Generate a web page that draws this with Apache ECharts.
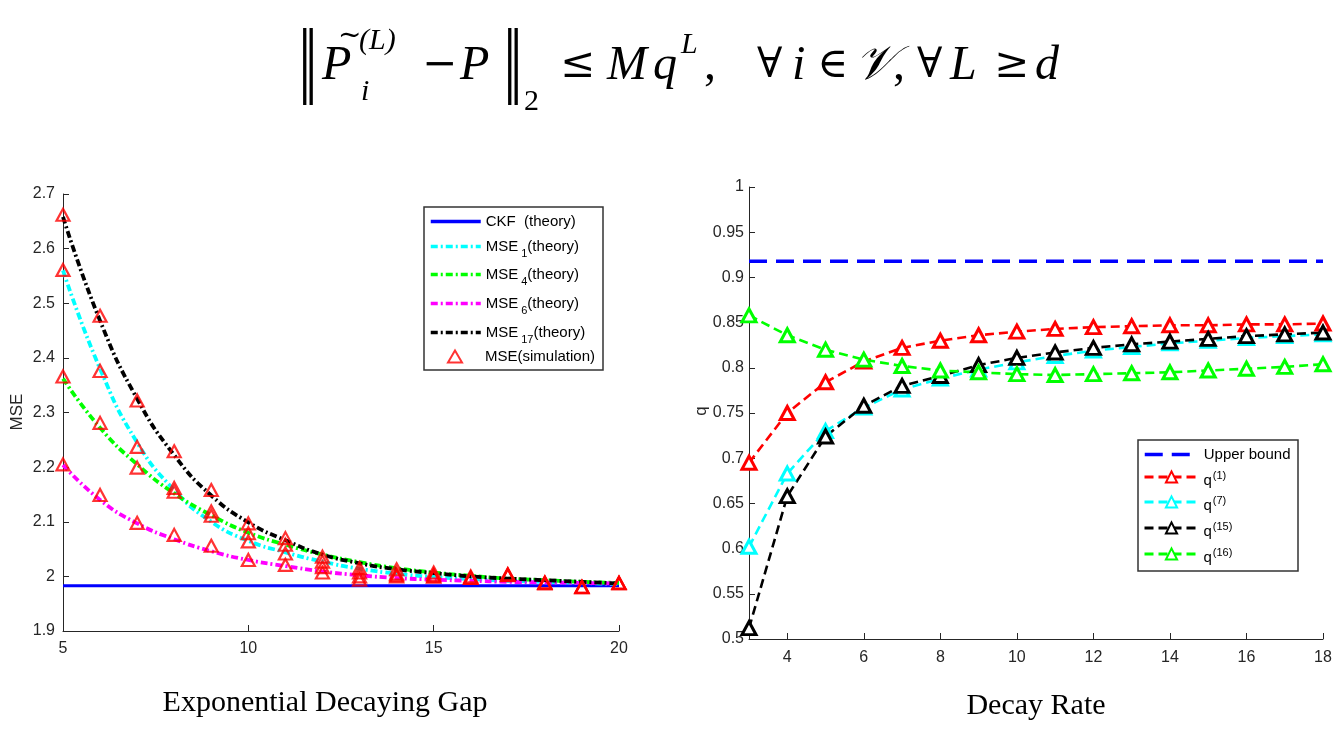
<!DOCTYPE html>
<html>
<head>
<meta charset="utf-8">
<script src="https://cdn.jsdelivr.net/npm/echarts@6/dist/echarts.min.js"></script>
<style>
html,body{margin:0;padding:0;background:#ffffff;}
#c{width:1342px;height:732px;}
</style>
</head>
<body>
<div id="c"></div>
<script>
// ---------- Left chart data: Exponential Decaying Gap ----------
const gapX = [5, 6, 7, 8, 9, 10, 11, 12, 13, 14, 15, 16, 17, 18, 19, 20];
const ckfTheory = [1.983, 1.983, 1.983, 1.983, 1.983, 1.983, 1.983, 1.983, 1.983, 1.983, 1.983, 1.983, 1.983, 1.983, 1.983, 1.983];
const mse1Theory = [2.560, 2.380, 2.245, 2.158, 2.100, 2.065, 2.044, 2.027, 2.014, 2.005, 1.999, 1.995, 1.992, 1.990, 1.988, 1.986];
const mse4Theory = [2.362, 2.272, 2.205, 2.152, 2.112, 2.080, 2.058, 2.040, 2.026, 2.015, 2.007, 2.001, 1.996, 1.993, 1.990, 1.988];
const mse6Theory = [2.204, 2.140, 2.097, 2.068, 2.046, 2.030, 2.019, 2.009, 2.002, 1.997, 1.994, 1.992, 1.990, 1.989, 1.988, 1.987];
const mse17Theory = [2.658, 2.468, 2.325, 2.222, 2.148, 2.099, 2.066, 2.040, 2.024, 2.013, 2.006, 2.000, 1.996, 1.993, 1.990, 1.987];
const simX = [5, 5, 5, 5, 6, 6, 6, 6, 7, 7, 7, 7, 8, 8, 8, 8, 9, 9, 9, 9, 10, 10, 10, 10,
              11, 11, 11, 11, 12, 12, 12, 12, 13, 13, 13, 13, 14, 14, 14, 14, 15, 15, 15, 15,
              16, 16, 16, 16, 17, 17, 17, 17, 18, 18, 18, 18, 19, 19, 19, 19, 20, 20, 20, 20];
const simY = [2.662, 2.561, 2.366, 2.205, 2.477, 2.376, 2.281, 2.149, 2.322, 2.237, 2.199, 2.098,
              2.229, 2.162, 2.155, 2.076, 2.158, 2.119, 2.111, 2.056, 2.097, 2.079, 2.064, 2.030,
              2.070, 2.058, 2.042, 2.021, 2.036, 2.027, 2.017, 2.007, 2.015, 2.007, 2.000, 1.994,
              2.013, 2.005, 2.000, 2.002, 2.007, 2.003, 2.000, 2.000, 2.000, 1.997, 1.998, 1.997,
              2.004, 2.003, 2.002, 2.003, 1.988, 1.989, 1.988, 1.987, 1.981, 1.980, 1.981, 1.980,
              1.988, 1.988, 1.987, 1.988];

// ---------- Right chart data: Decay Rate ----------
const rateX = [3, 4, 5, 6, 7, 8, 9, 10, 11, 12, 13, 14, 15, 16, 17, 18];
const upperBound = [0.918, 0.918, 0.918, 0.918, 0.918, 0.918, 0.918, 0.918, 0.918, 0.918, 0.918, 0.918, 0.918, 0.918, 0.918, 0.918];
const q1 = [0.695, 0.750, 0.784, 0.807, 0.822, 0.830, 0.836, 0.840, 0.843, 0.845, 0.846, 0.847, 0.847, 0.848, 0.848, 0.849];
const q7 = [0.602, 0.683, 0.730, 0.756, 0.776, 0.788, 0.798, 0.806, 0.813, 0.819, 0.823, 0.827, 0.830, 0.833, 0.835, 0.837];
const q15 = [0.512, 0.658, 0.724, 0.758, 0.780, 0.791, 0.803, 0.811, 0.817, 0.822, 0.826, 0.829, 0.832, 0.835, 0.837, 0.839];
const q16 = [0.858, 0.836, 0.820, 0.809, 0.802, 0.797, 0.795, 0.793, 0.792, 0.793, 0.794, 0.795, 0.797, 0.799, 0.801, 0.804];

// tick labels
const leftXTicks = [5, 10, 15, 20];
const rightXTicks = [4, 6, 8, 10, 12, 14, 16, 18];

// text
const leftXTitle = 'Exponential Decaying Gap';
const rightXTitle = 'Decay Rate';
const leftYTitle = 'MSE';
const rightYTitle = 'q';

function zip(xs, ys) { return xs.map((x, i) => [x, ys[i]]); }

const AX = '#262626';
const SANS = 'Liberation Sans';
const dashDot = [7, 3, 2, 3];

const rich = {
  b: { fontFamily: SANS, fontSize: 15, color: '#000', verticalAlign: 'middle' },
  bp: { fontFamily: SANS, fontSize: 15, color: '#000', padding: [0, 0, 0, 18], verticalAlign: 'middle' },
  sub: { fontFamily: SANS, fontSize: 11, color: '#000', padding: [14, 0, 0, 3], verticalAlign: 'middle' },
  qb: { fontFamily: SANS, fontSize: 15, color: '#000', padding: [8, 0, 0, 0], verticalAlign: 'middle' },
  sup: { fontFamily: SANS, fontSize: 11, color: '#000', padding: [0, 0, 3, 1], verticalAlign: 'middle' }
};
const legendLabels = {
  'CKF': '{b|CKF  (theory)}',
  'MSE1': '{b|MSE}{sub|1}{b|(theory)}',
  'MSE4': '{b|MSE}{sub|4}{b|(theory)}',
  'MSE6': '{b|MSE}{sub|6}{b|(theory)}',
  'MSE17': '{b|MSE}{sub|17}{b|(theory)}',
  'MSEsim': '{bp|MSE(simulation)}',
  'Upper bound': '{b|Upper bound}',
  'q1': '{qb|q}{sup|(1)}',
  'q7': '{qb|q}{sup|(7)}',
  'q15': '{qb|q}{sup|(15)}',
  'q16': '{qb|q}{sup|(16)}'
};
function mkLegend(name, left, cy, w, h, hideSymbol, lineW) {
  const lg = {
    data: [name], left: left, top: cy - h / 2, orient: 'horizontal',
    itemWidth: w, itemHeight: h, padding: 0, itemGap: 0, selectedMode: false,
    formatter: n => legendLabels[n],
    textStyle: { fontFamily: SANS, fontSize: 15, color: '#000', rich: rich }
  };
  if (hideSymbol) {
    lg.itemStyle = { color: 'rgba(0,0,0,0)', borderWidth: 0, borderColor: 'rgba(0,0,0,0)' };
  }
  if (lineW) {
    lg.lineStyle = { width: lineW };
  }
  return lg;
}

function valueAxis(opts) {
  return Object.assign({
    type: 'value',
    axisLine: { show: true, onZero: false, lineStyle: { color: AX, width: 1 } },
    axisTick: { show: true, inside: true, length: 6, lineStyle: { color: AX, width: 1 } },
    axisLabel: { color: AX, fontSize: 16, fontFamily: SANS, showMinLabel: true, showMaxLabel: true },
    splitLine: { show: false }
  }, opts);
}

// formula pieces (title)
const SERIF = 'Liberation Serif';
const MATH = 'DejaVu Serif';
function t(text, x, y, font, extra) {
  return Object.assign({
    type: 'text', x: x, y: y, silent: true,
    style: { text: text, font: font, fill: '#000', align: 'left', verticalAlign: 'middle' }
  }, extra || {});
}
const mainIt = 'italic 48px "' + SERIF + '"';
const smallIt = 'italic 30px "' + SERIF + '"';
const sym = '42px "' + MATH + '"';
const barFont = '40px "DejaVu Sans"';

const graphics = [
  t('\u2016', 298, 66, barFont, { scaleY: 1.9 }),
  t('P', 322, 66, mainIt),
  t('~', 338, 37, '28px "' + MATH + '"'),
  t('(L)', 359, 41, smallIt),
  t('i', 361, 92, smallIt),
  t('\u2212', 422, 66, sym),
  t('P', 460, 66, mainIt),
  t('\u2016', 503, 66, barFont, { scaleY: 1.9 }),
  t('2', 524, 102, '30px "' + SERIF + '"'),
  t('\u2264', 560, 66, sym),
  t('M', 607, 66, mainIt),
  t('q', 653, 66, mainIt),
  t('L', 681, 45, smallIt),
  t(',', 704, 66, '48px "' + SERIF + '"'),
  t('\u2200', 757, 66, sym),
  t('i', 792, 66, mainIt),
  t('\u2208', 817, 66, sym),
  t('\uD835\uDCB1', 855, 66, 'italic 48px "' + SERIF + '"'),
  t(',', 893, 66, '48px "' + SERIF + '"'),
  t('\u2200', 917, 66, sym),
  t('L', 950, 66, mainIt),
  t('\u2265', 994, 66, sym),
  t('d', 1035, 66, mainIt),
  // axis titles
  { type: 'text', x: 325, y: 703, silent: true,
    style: { text: leftXTitle, font: '30px "' + SERIF + '"', fill: '#000', align: 'center', verticalAlign: 'middle' } },
  { type: 'text', x: 1036, y: 706, silent: true,
    style: { text: rightXTitle, font: '30px "' + SERIF + '"', fill: '#000', align: 'center', verticalAlign: 'middle' } },
  { type: 'text', x: 17, y: 412, rotation: Math.PI / 2, silent: true,
    style: { text: leftYTitle, font: '17px "' + SANS + '"', fill: AX, align: 'center', verticalAlign: 'middle' } },
  { type: 'text', x: 701, y: 411, rotation: Math.PI / 2, silent: true,
    style: { text: rightYTitle, font: '17px "' + SANS + '"', fill: AX, align: 'center', verticalAlign: 'middle' } },
  // legend boxes
  { type: 'rect', silent: true, shape: { x: 424, y: 207, width: 179, height: 163 },
    style: { fill: 'none', stroke: '#333', lineWidth: 1.5 } },
  { type: 'rect', silent: true, shape: { x: 1138, y: 440, width: 160, height: 131 },
    style: { fill: 'none', stroke: '#333', lineWidth: 1.5 } }
];

const chart = echarts.init(document.getElementById('c'), null, { renderer: 'canvas', width: 1342, height: 732 });

function triLine(name, data, color) {
  return {
    name: name, type: 'line', xAxisIndex: 1, yAxisIndex: 1, data: data,
    symbol: 'triangle', symbolSize: [14, 13], showSymbol: true,
    itemStyle: { color: '#ffffff', borderColor: color, borderWidth: 3 },
    lineStyle: { color: color, width: 2.6, type: [9, 5] },
    emphasis: { disabled: true }, z: 3
  };
}
function theory(name, data, color) {
  return {
    name: name, type: 'line', xAxisIndex: 0, yAxisIndex: 0, data: data,
    symbol: 'none', smooth: 0.5,
    itemStyle: { color: color },
    lineStyle: { color: color, width: 3.8, type: dashDot },
    emphasis: { disabled: true }
  };
}

chart.setOption({
  animation: false,
  backgroundColor: '#ffffff',
  grid: [
    { left: 63, top: 194, width: 556, height: 437, containLabel: false, outerBoundsMode: 'none' },
    { left: 749, top: 187, width: 574, height: 452, containLabel: false, outerBoundsMode: 'none' }
  ],
  xAxis: [
    valueAxis({ gridIndex: 0, min: 5, max: 20, interval: 5,
      axisLabel: { color: AX, fontSize: 16, fontFamily: SANS, margin: 10, showMinLabel: true, showMaxLabel: true,
        customValues: leftXTicks },
      axisTick: { show: true, inside: true, length: 6, lineStyle: { color: AX }, customValues: leftXTicks } }),
    valueAxis({ gridIndex: 1, min: 3, max: 18, interval: 1,
      axisLabel: { color: AX, fontSize: 16, fontFamily: SANS, margin: 11, showMinLabel: true, showMaxLabel: true,
        customValues: rightXTicks },
      axisTick: { show: true, inside: true, length: 6, lineStyle: { color: AX }, customValues: rightXTicks } })
  ],
  yAxis: [
    valueAxis({ gridIndex: 0, min: 1.9, max: 2.7, interval: 0.1,
      axisLabel: { color: AX, fontSize: 16, fontFamily: SANS, margin: 8, showMinLabel: true, showMaxLabel: true } }),
    valueAxis({ gridIndex: 1, min: 0.5, max: 1, interval: 0.05,
      axisLabel: { color: AX, fontSize: 16, fontFamily: SANS, margin: 5, showMinLabel: true, showMaxLabel: true } })
  ],
  legend: [
    mkLegend('CKF', 429, 221, 50, 14, true, 3.5),
    mkLegend('MSE1', 429, 246, 50, 14, true, 3.5),
    mkLegend('MSE4', 429, 274, 50, 14, true, 3.5),
    mkLegend('MSE6', 429, 303, 50, 14, true, 3.5),
    mkLegend('MSE17', 429, 332, 50, 14, true, 3.5),
    mkLegend('MSEsim', 447, 355, 14, 12, false, 0),
    mkLegend('Upper bound', 1143, 454, 54, 14, true, 3.5),
    mkLegend('q1', 1143, 477, 54, 14, false, 3),
    mkLegend('q7', 1143, 502, 54, 14, false, 3),
    mkLegend('q15', 1143, 528, 54, 14, false, 3),
    mkLegend('q16', 1143, 554, 54, 14, false, 3)
  ],
  graphic: graphics,
  series: [
    { name: 'CKF', type: 'line', xAxisIndex: 0, yAxisIndex: 0, data: zip(gapX, ckfTheory),
      symbol: 'none', itemStyle: { color: '#0000ff' }, lineStyle: { color: '#0000ff', width: 3 },
      emphasis: { disabled: true } },
    theory('MSE1', zip(gapX, mse1Theory), '#00ffff'),
    theory('MSE4', zip(gapX, mse4Theory), '#00ff00'),
    theory('MSE6', zip(gapX, mse6Theory), '#ff00ff'),
    theory('MSE17', zip(gapX, mse17Theory), '#000000'),
    { name: 'MSEsim', type: 'scatter', xAxisIndex: 0, yAxisIndex: 0, data: zip(simX, simY),
      symbol: 'triangle', symbolSize: [13, 12],
      itemStyle: { color: 'rgba(255,255,255,0)', borderColor: '#ff0000', borderWidth: 2.2 },
      emphasis: { disabled: true }, z: 4 },
    { name: 'Upper bound', type: 'line', xAxisIndex: 1, yAxisIndex: 1, data: zip(rateX, upperBound),
      symbol: 'none', itemStyle: { color: '#0000ff' }, lineStyle: { color: '#0000ff', width: 3.5, type: [18, 9] },
      emphasis: { disabled: true } },
    triLine('q1', zip(rateX, q1), '#ff0000'),
    triLine('q7', zip(rateX, q7), '#00ffff'),
    triLine('q15', zip(rateX, q15), '#000000'),
    triLine('q16', zip(rateX, q16), '#00ff00')
  ]
});
</script>
</body>
</html>
